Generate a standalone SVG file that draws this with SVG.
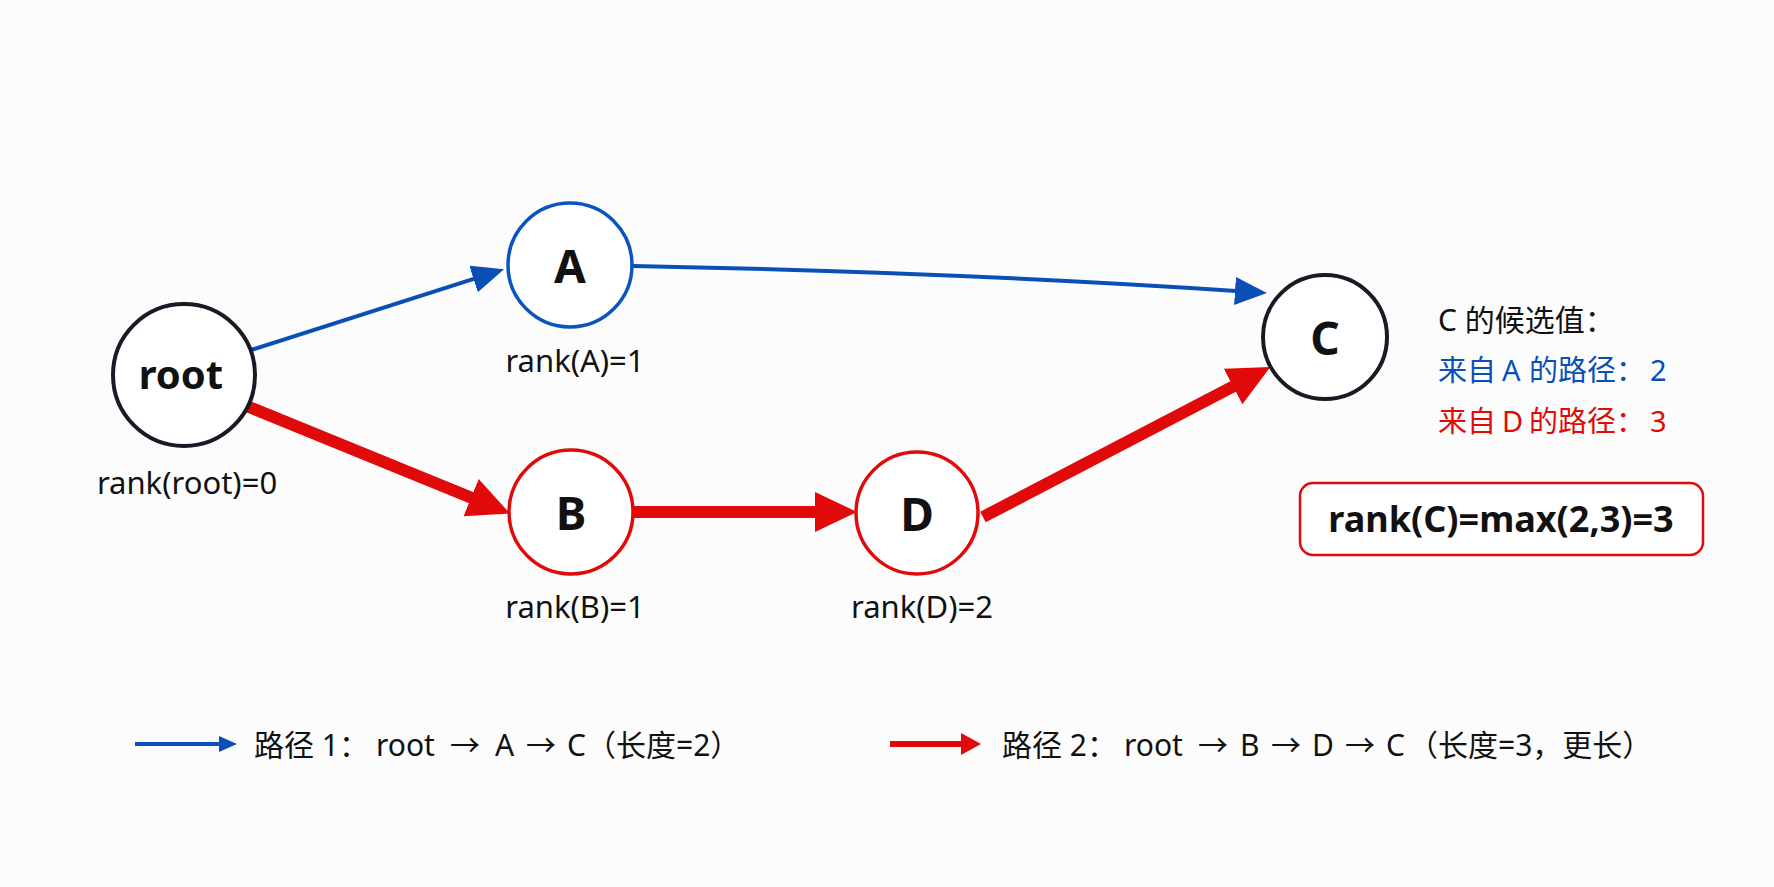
<svg xmlns="http://www.w3.org/2000/svg" width="1774" height="887" viewBox="0 0 1774 887">
<style>
text{font-family:"Noto Sans","Noto Sans CJK SC",sans-serif;fill:#111}
.lbl{font-size:31px;text-anchor:middle}
.nl{font-weight:bold;text-anchor:middle}
.side{font-size:30px}
.cand{font-size:29px}
.blue{fill:#0a4fb5}
.red{fill:#e00a0a}
.cb{fill:#fff;stroke:#1a1a24;stroke-width:4}
.cblue{fill:#fff;stroke:#0a55bd;stroke-width:3.5}
.cred{fill:#fff;stroke:#e00a0a;stroke-width:3.5}
.eb{fill:none;stroke:#0a4fb5;stroke-width:4}
.er{fill:none;stroke:#e00a0a;stroke-width:12}
</style>
<defs>
<marker id="ab" markerUnits="userSpaceOnUse" markerWidth="34" markerHeight="30" refX="1" refY="14" orient="auto"><path d="M0,0 L32,14 L0,28 Z" fill="#0a4fb5"/></marker>
<marker id="ar" markerUnits="userSpaceOnUse" markerWidth="44" markerHeight="42" refX="1" refY="20" orient="auto"><path d="M0,0 L42,20 L0,40 Z" fill="#e00a0a"/></marker>
<marker id="abs" markerUnits="userSpaceOnUse" markerWidth="20" markerHeight="20" refX="1" refY="10" orient="auto"><path d="M0,2 L18,10 L0,18 Z" fill="#0a4fb5"/></marker>
<marker id="ars" markerUnits="userSpaceOnUse" markerWidth="22" markerHeight="24" refX="1" refY="12" orient="auto"><path d="M0,1 L20,12 L0,23 Z" fill="#e00a0a"/></marker>
</defs>
<rect width="1774" height="887" fill="#fcfcfc"/>
<g id="connectors">
<path class="eb" d="M251,350 L474.5,278.7" marker-end="url(#ab)"/>
<path class="eb" d="M633,266 Q950,272 1236,291" marker-end="url(#ab)"/>
<path class="er" d="M249,407 L472,498" marker-end="url(#ar)"/>
<path class="er" d="M633,512 L816,512" marker-end="url(#ar)"/>
<path class="er" d="M983,517 L1234,386" marker-end="url(#ar)"/>
</g>
<g id="node-root"><circle class="cb" cx="184" cy="375" r="71"/><text class="nl" x="181" y="389" font-size="40">root</text><text class="lbl" x="187" y="494">rank(root)=0</text></g>
<g id="node-A"><circle class="cblue" cx="570" cy="265" r="62"/><text class="nl" x="570" y="283" font-size="46">A</text><text class="lbl" x="575" y="372">rank(A)=1</text></g>
<g id="node-B"><circle class="cred" cx="571" cy="512" r="62"/><text class="nl" x="571" y="530" font-size="46">B</text><text class="lbl" x="575" y="618">rank(B)=1</text></g>
<g id="node-D"><circle class="cred" cx="917" cy="513" r="61"/><text class="nl" x="917" y="531" font-size="46">D</text><text class="lbl" x="922" y="618">rank(D)=2</text></g>
<g id="node-C"><circle class="cb" cx="1325" cy="337" r="62"/><text class="nl" x="1325" y="355" font-size="46">C</text></g>
<g id="candidates">
<text class="side" x="1438" y="331">C 的候选值：</text>
<text class="cand blue" x="1438" y="381">来自 <tspan x="1502">A</tspan> <tspan x="1529">的路径：</tspan><tspan x="1650">2</tspan></text>
<text class="cand red" x="1438" y="432">来自 <tspan x="1502">D</tspan> <tspan x="1529">的路径：</tspan><tspan x="1650">3</tspan></text>
</g>
<g id="result">
<rect x="1300" y="483" width="403" height="72" rx="13" fill="#fff" stroke="#e00a0a" stroke-width="2.5"/>
<text x="1501" y="532" font-size="36" font-weight="bold" text-anchor="middle">rank(C)=max(2,3)=3</text>
</g>
<g id="legend">
<path d="M135,744 L220,744" stroke="#0a4fb5" stroke-width="4" marker-end="url(#abs)"/>
<text class="side" x="254" y="756">路径 1：<tspan x="376">root</tspan><tspan x="450">→</tspan><tspan x="495">A</tspan><tspan x="526">→</tspan><tspan x="567">C</tspan><tspan x="586">（长度=2）</tspan></text>
<path d="M890,744 L962,744" stroke="#e00a0a" stroke-width="6" marker-end="url(#ars)"/>
<text class="side" x="1002" y="756">路径 2：<tspan x="1124">root</tspan><tspan x="1198">→</tspan><tspan x="1240">B</tspan><tspan x="1271">→</tspan><tspan x="1312">D</tspan><tspan x="1345">→</tspan><tspan x="1386">C</tspan><tspan x="1408">（长度=3，更长）</tspan></text>
</g>
</svg>
